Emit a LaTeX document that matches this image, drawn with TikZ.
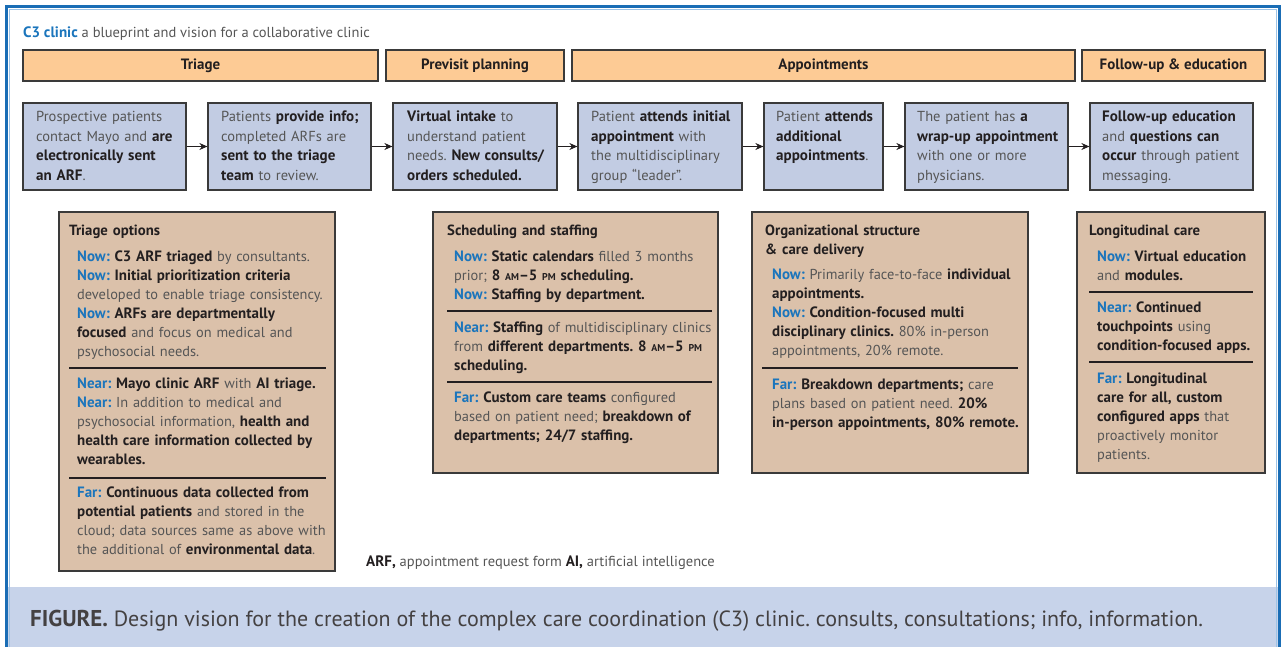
\documentclass[tikz,border=0pt]{standalone}
\usepackage{fontspec}
\setmainfont{PT Sans}[BoldFeatures={Scale=1.04}]
\usetikzlibrary{arrows.meta}
\definecolor{nowblue}{HTML}{1B75BC}
\definecolor{bordblue}{HTML}{1A6DB5}
\definecolor{lightbord}{HTML}{9DC3E6}
\definecolor{hdrfill}{HTML}{FDCB95}
\definecolor{bluefill}{HTML}{C2CCE3}
\definecolor{tanfill}{HTML}{DBC1AA}
\definecolor{capfill}{HTML}{C7D3EA}
\definecolor{tx}{HTML}{555555}
\definecolor{dk}{HTML}{231F20}
\definecolor{edge}{HTML}{3A3A3A}
\frenchspacing
\newcommand\bt[1]{{\bfseries\color{dk}#1}}
\newcommand\lnow{{\bfseries\color{nowblue}Now:} }
\newcommand\lnear{{\bfseries\color{nowblue}Near:} }
\newcommand\lfar{{\bfseries\color{nowblue}Far:} }
\newcommand\smc[1]{{\fontsize{9.5}{9}\selectfont #1}}
\tikzset{
 hdr/.style={draw=edge, fill=hdrfill, line width=1.2pt, minimum height=31pt, inner sep=0pt, font=\fontsize{14.4}{16}\selectfont\bfseries, text=dk},
 bbox/.style={draw=edge, fill=bluefill, line width=1.2pt, minimum height=87pt, inner sep=0pt},
 tbox/.style={draw=edge, fill=tanfill, line width=1.2pt, inner sep=0pt},
 btxt/.style={anchor=north west, inner sep=0pt, text width=200pt, align=left, font=\fontsize{14.5}{19.5}\selectfont, text=tx},
 ttxt/.style={anchor=north west, inner sep=0pt, text width=300pt, align=left, font=\fontsize{14.4}{19}\selectfont, text=tx},
 ttitle/.style={anchor=north west, inner sep=0pt, text width=300pt, align=left, font=\fontsize{14.2}{19}\selectfont\bfseries, text=dk},
 arr/.style={-{Stealth[length=8pt,width=7pt]}, line width=1.1pt, draw=dk},
 divl/.style={line width=1.1pt, draw=dk},
}
\begin{document}
\begin{tikzpicture}[x=1pt,y=-1pt]
\useasboundingbox (0,0) rectangle (1286,647);
% caption band
\fill[capfill] (8,587) rectangle (1278,647);
% frame
\draw[line width=1pt, lightbord] (9.5,647) -- (9.5,9.5) -- (1276.5,9.5) -- (1276.5,647);
\draw[line width=3pt, bordblue] (6.5,647) -- (6.5,6.5) -- (1279.5,6.5) -- (1279.5,647);

% title
\node[anchor=base west, inner sep=0pt, font=\fontsize{14.5}{16}\selectfont, text=tx] (title) at (23,37.5) {{\bfseries\color{nowblue}C3 clinic} a blueprint and vision for a collaborative clinic};

% headers
\node[hdr, minimum width=355pt] (h1) at (200.5,65.5) {Triage};
\node[hdr, minimum width=178pt] (h2) at (475,65.5) {Previsit planning};
\node[hdr, minimum width=503pt] (h3) at (823.5,65.5) {Appointments};
\node[hdr, minimum width=183pt] (h4) at (1173.5,65.5) {Follow-up \& education};

% blue boxes
\node[bbox, minimum width=163pt] (b1) at (104.5,146.5) {};
\node[bbox, minimum width=163pt] (b2) at (289.5,146.5) {};
\node[bbox, minimum width=164pt] (b3) at (475,146.5) {};
\node[bbox, minimum width=164pt] (b4) at (660,146.5) {};
\node[bbox, minimum width=119pt] (b5) at (823.5,146.5) {};
\node[bbox, minimum width=163pt] (b6) at (986.5,146.5) {};
\node[bbox, minimum width=163pt] (b7) at (1171.5,146.5) {};

\node[btxt] (b1t) at (36,107.8) {\strut Prospective patients\\contact Mayo and \bt{are}\\\bt{electronically sent}\\\bt{an ARF}.};
\node[btxt] (b2t) at (221,107.8) {\strut Patients \bt{provide info;}\\completed ARFs are\\\bt{sent to the triage}\\\bt{team} to review.};
\node[btxt] (b3t) at (407,107.8) {\strut \bt{Virtual intake} to\\understand patient\\needs. \bt{New consults/}\\\bt{orders scheduled.}};
\node[btxt] (b4t) at (591,107.8) {\strut Patient \bt{attends initial}\\\bt{appointment} with\\the multidisciplinary\\group “leader”.};
\node[btxt] (b5t) at (776,107.8) {\strut Patient \bt{attends}\\\bt{additional}\\\bt{appointments}.};
\node[btxt] (b6t) at (917,107.8) {\strut The patient has \bt{a}\\\bt{wrap-up appointment}\\with one or more\\physicians.};
\node[btxt] (b7t) at (1102,107.8) {\strut \bt{Follow-up education}\\and \bt{questions can}\\\bt{occur} through patient\\messaging.};

\draw[arr] (b1) -- (b2);
\draw[arr] (b2) -- (b3);
\draw[arr] (b3) -- (b4);
\draw[arr] (b4) -- (b5);
\draw[arr] (b5) -- (b6);
\draw[arr] (b6) -- (b7);

% tan boxes
\node[tbox, minimum width=276pt, minimum height=359pt] (t1) at (197,391.5) {};
\node[tbox, minimum width=285pt, minimum height=261pt] (t2) at (575.5,342.5) {};
\node[tbox, minimum width=276pt, minimum height=261pt] (t3) at (890,342.5) {};
\node[tbox, minimum width=188pt, minimum height=261pt] (t4) at (1171,342.5) {};

% Triage options
\node[ttitle] (t1h) at (69,222.2) {\strut Triage options};
\node[ttxt] (t1a) at (77,248.2) {\strut\lnow\bt{C3 ARF triaged} by consultants.\\\lnow\bt{Initial prioritization criteria}\\developed to enable triage consistency.\\\lnow\bt{ARFs are departmentally}\\\bt{focused} and focus on medical and\\psychosocial needs.};
\draw[divl] (69,368) -- (326,368);
\node[ttxt] (t1b) at (77,375.2) {\strut\lnear\bt{Mayo clinic ARF} with \bt{AI triage.}\\\lnear In addition to medical and\\psychosocial information, \bt{health and}\\\bt{health care information collected by}\\\bt{wearables.}};
\draw[divl] (69,478) -- (326,478);
\node[ttxt] (t1c) at (77,484.2) {\strut\lfar\bt{Continuous data collected from}\\\bt{potential patients} and stored in the\\cloud; data sources same as above with\\the additional of \bt{environmental data}.};

% Scheduling and staffing
\node[ttitle] (t2h) at (447,222.2) {\strut Scheduling and staffing};
\node[ttxt] (t2a) at (454,248.2) {\strut\lnow\bt{Static calendars} filled 3 months\\prior; \bt{8 \smc{AM}–5 \smc{PM} scheduling.}\\\lnow\bt{Staffing by department.}};
\draw[divl] (447,311) -- (712,311);
\node[ttxt] (t2b) at (454,319.2) {\strut\lnear\bt{Staffing} of multidisciplinary clinics\\from \bt{different departments. 8 \smc{AM}–5 \smc{PM}}\\\bt{scheduling.}};
\draw[divl] (447,382) -- (712,382);
\node[ttxt] (t2c) at (454,389.2) {\strut\lfar\bt{Custom care teams} configured\\based on patient need; \bt{breakdown of}\\\bt{departments; 24/7 staffing.}};

% Organizational structure
\node[ttitle] (t3h) at (765,222.2) {\strut Organizational structure\\\& care delivery};
\node[ttxt] (t3a) at (772,266.2) {\strut\lnow Primarily face-to-face \bt{individual}\\\bt{appointments.}\\\lnow\bt{Condition-focused multi}\\\bt{disciplinary clinics.} 80\% in-person\\appointments, 20\% remote.};
\draw[divl] (762,368) -- (1018,368);
\node[ttxt] (t3b) at (772,376.2) {\strut\lfar\bt{Breakdown departments;} care\\plans based on patient need. \bt{20\%}\\\bt{in-person appointments, 80\% remote.}};

% Longitudinal care
\node[ttitle] (t4h) at (1089,222.2) {\strut Longitudinal care};
\node[ttxt] (t4a) at (1097,248.2) {\strut\lnow\bt{Virtual education}\\and \bt{modules.}};
\draw[divl] (1089,292) -- (1253,292);
\node[ttxt] (t4b) at (1097,299.2) {\strut\lnear\bt{Continued}\\\bt{touchpoints} using\\\bt{condition-focused apps.}};
\draw[divl] (1089,362) -- (1253,362);
\node[ttxt] (t4c) at (1097,370.2) {\strut\lfar\bt{Longitudinal}\\\bt{care for all, custom}\\\bt{configured apps} that\\proactively monitor\\patients.};

% footnote
\node[anchor=base west, inner sep=0pt, font=\fontsize{14.5}{16}\selectfont, text=tx] (fn) at (366,566) {\bt{ARF,} appointment request form \bt{AI,} artificial intelligence};

% caption
\node[anchor=base west, inner sep=0pt, font=\fontsize{22}{24}\selectfont, text=dk!85] (cap) at (30,626) {{\bfseries FIGURE.} Design vision for the creation of the complex care coordination (C3) clinic. consults, consultations; info, information.};
\end{tikzpicture}
\end{document}
